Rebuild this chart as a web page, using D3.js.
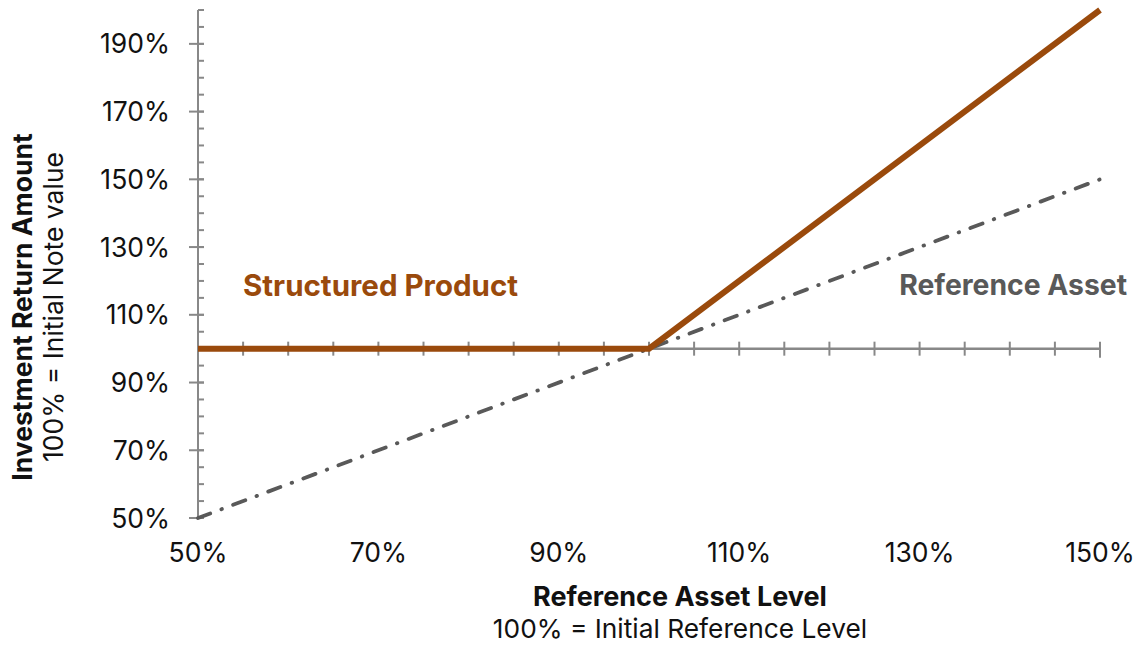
<!DOCTYPE html>
<html>
<head>
<meta charset="utf-8">
<script src="https://cdn.jsdelivr.net/npm/d3@7"></script>
<style>
  html, body { margin: 0; padding: 0; background: #fff; }
  svg { display: block; }
  text { font-family: Inter, "Noto Sans", sans-serif; }
</style>
</head>
<body>
<svg id="chart" width="1138" height="646"></svg>
<script>
// payoff diagram: reference level (%) vs investment return (%)
const refLevels = [50, 100, 150];
const productValues = [100, 100, 200];
const assetValues = [50, 100, 150];

const xTicks = [50, 70, 90, 110, 130, 150];
const yTicks = [50, 70, 90, 110, 130, 150, 170, 190];

const W = 1138, H = 646;
const svg = d3.select("#chart");

const x = d3.scaleLinear().domain([50, 150]).range([198, 1100]);
const y = d3.scaleLinear().domain([50, 200]).range([518, 10]);

const axisColor = "#888888";
const brown = "#9a4a0c";
const grey = "#595959";

// y axis line
svg.append("line")
  .attr("x1", x(50)).attr("x2", x(50))
  .attr("y1", y(200)).attr("y2", y(50))
  .attr("stroke", axisColor).attr("stroke-width", 2);

// minor ticks every 5%
svg.append("g").selectAll("line")
  .data(d3.range(50, 201, 5))
  .join("line")
  .attr("x1", x(50)).attr("x2", x(50) + 6)
  .attr("y1", d => y(d)).attr("y2", d => y(d))
  .attr("stroke", axisColor).attr("stroke-width", 2);

// major ticks
svg.append("g").selectAll("line")
  .data(yTicks)
  .join("line")
  .attr("x1", x(50) - 9).attr("x2", x(50) + 6)
  .attr("y1", d => y(d)).attr("y2", d => y(d))
  .attr("stroke", axisColor).attr("stroke-width", 2);

svg.append("g").selectAll("text")
  .data(yTicks)
  .join("text")
  .attr("x", x(50) - 28)
  .attr("y", d => y(d))
  .attr("dy", "0.36em")
  .attr("text-anchor", "end")
  .attr("font-size", 26.5)
  .attr("fill", "#111")
  .text(d => d + "%");

// x axis drawn through 100%
svg.append("line")
  .attr("x1", x(50)).attr("x2", x(150))
  .attr("y1", y(100)).attr("y2", y(100))
  .attr("stroke", axisColor).attr("stroke-width", 2.5);

svg.append("g").selectAll("line")
  .data(d3.range(55, 151, 5))
  .join("line")
  .attr("x1", d => x(d)).attr("x2", d => x(d))
  .attr("y1", y(100) - 7).attr("y2", d => y(100) + (d === 150 ? 9 : 7))
  .attr("stroke", axisColor).attr("stroke-width", 2);

svg.append("g").selectAll("text")
  .data(xTicks)
  .join("text")
  .attr("x", d => x(d))
  .attr("y", 552)
  .attr("dy", "0.36em")
  .attr("text-anchor", "middle")
  .attr("font-size", 26.5)
  .attr("fill", "#111")
  .text(d => d + "%");

const line = d3.line().x(d => x(d[0])).y(d => y(d[1]));

// reference asset (dash-dot)
svg.append("path")
  .attr("d", line(refLevels.map((r, i) => [r, assetValues[i]])))
  .attr("fill", "none")
  .attr("stroke", grey)
  .attr("stroke-width", 3.8)
  .attr("stroke-linecap", "round")
  .attr("stroke-dasharray", "13,12,0.5,12");

// structured product
svg.append("path")
  .attr("d", line(refLevels.map((r, i) => [r, productValues[i]])))
  .attr("fill", "none")
  .attr("stroke", brown)
  .attr("stroke-width", 6)
  .attr("stroke-linejoin", "miter");

// series labels
svg.append("text")
  .attr("x", 243).attr("y", 285).attr("dy", "0.36em")
  .attr("font-size", 29.5).attr("font-weight", 700)
  .attr("fill", brown)
  .text("Structured Product");

svg.append("text")
  .attr("x", 1127).attr("y", 285).attr("dy", "0.36em")
  .attr("text-anchor", "end")
  .attr("font-size", 28.3).attr("font-weight", 700)
  .attr("fill", grey)
  .text("Reference Asset");

// x axis title
svg.append("text")
  .attr("x", 680).attr("y", 596).attr("dy", "0.36em")
  .attr("text-anchor", "middle")
  .attr("font-size", 27).attr("font-weight", 700)
  .attr("fill", "#111")
  .text("Reference Asset Level");

svg.append("text")
  .attr("x", 680).attr("y", 629).attr("dy", "0.36em")
  .attr("text-anchor", "middle")
  .attr("font-size", 26.3)
  .attr("fill", "#111")
  .text("100% = Initial Reference Level");

// y axis title
const yTitle = svg.append("g").attr("transform", "translate(22,307) rotate(-90)");
yTitle.append("text")
  .attr("text-anchor", "middle").attr("dy", "0.36em")
  .attr("font-family", "'Liberation Sans', Arial, sans-serif")
  .attr("font-size", 26.5).attr("font-weight", 700)
  .attr("fill", "#111")
  .text("Investment Return Amount");
yTitle.append("text")
  .attr("text-anchor", "middle").attr("y", 31).attr("dy", "0.36em")
  .attr("font-family", "'Liberation Sans', Arial, sans-serif")
  .attr("font-size", 26.5)
  .attr("fill", "#111")
  .text("100% = Initial Note value");
</script>
</body>
</html>
